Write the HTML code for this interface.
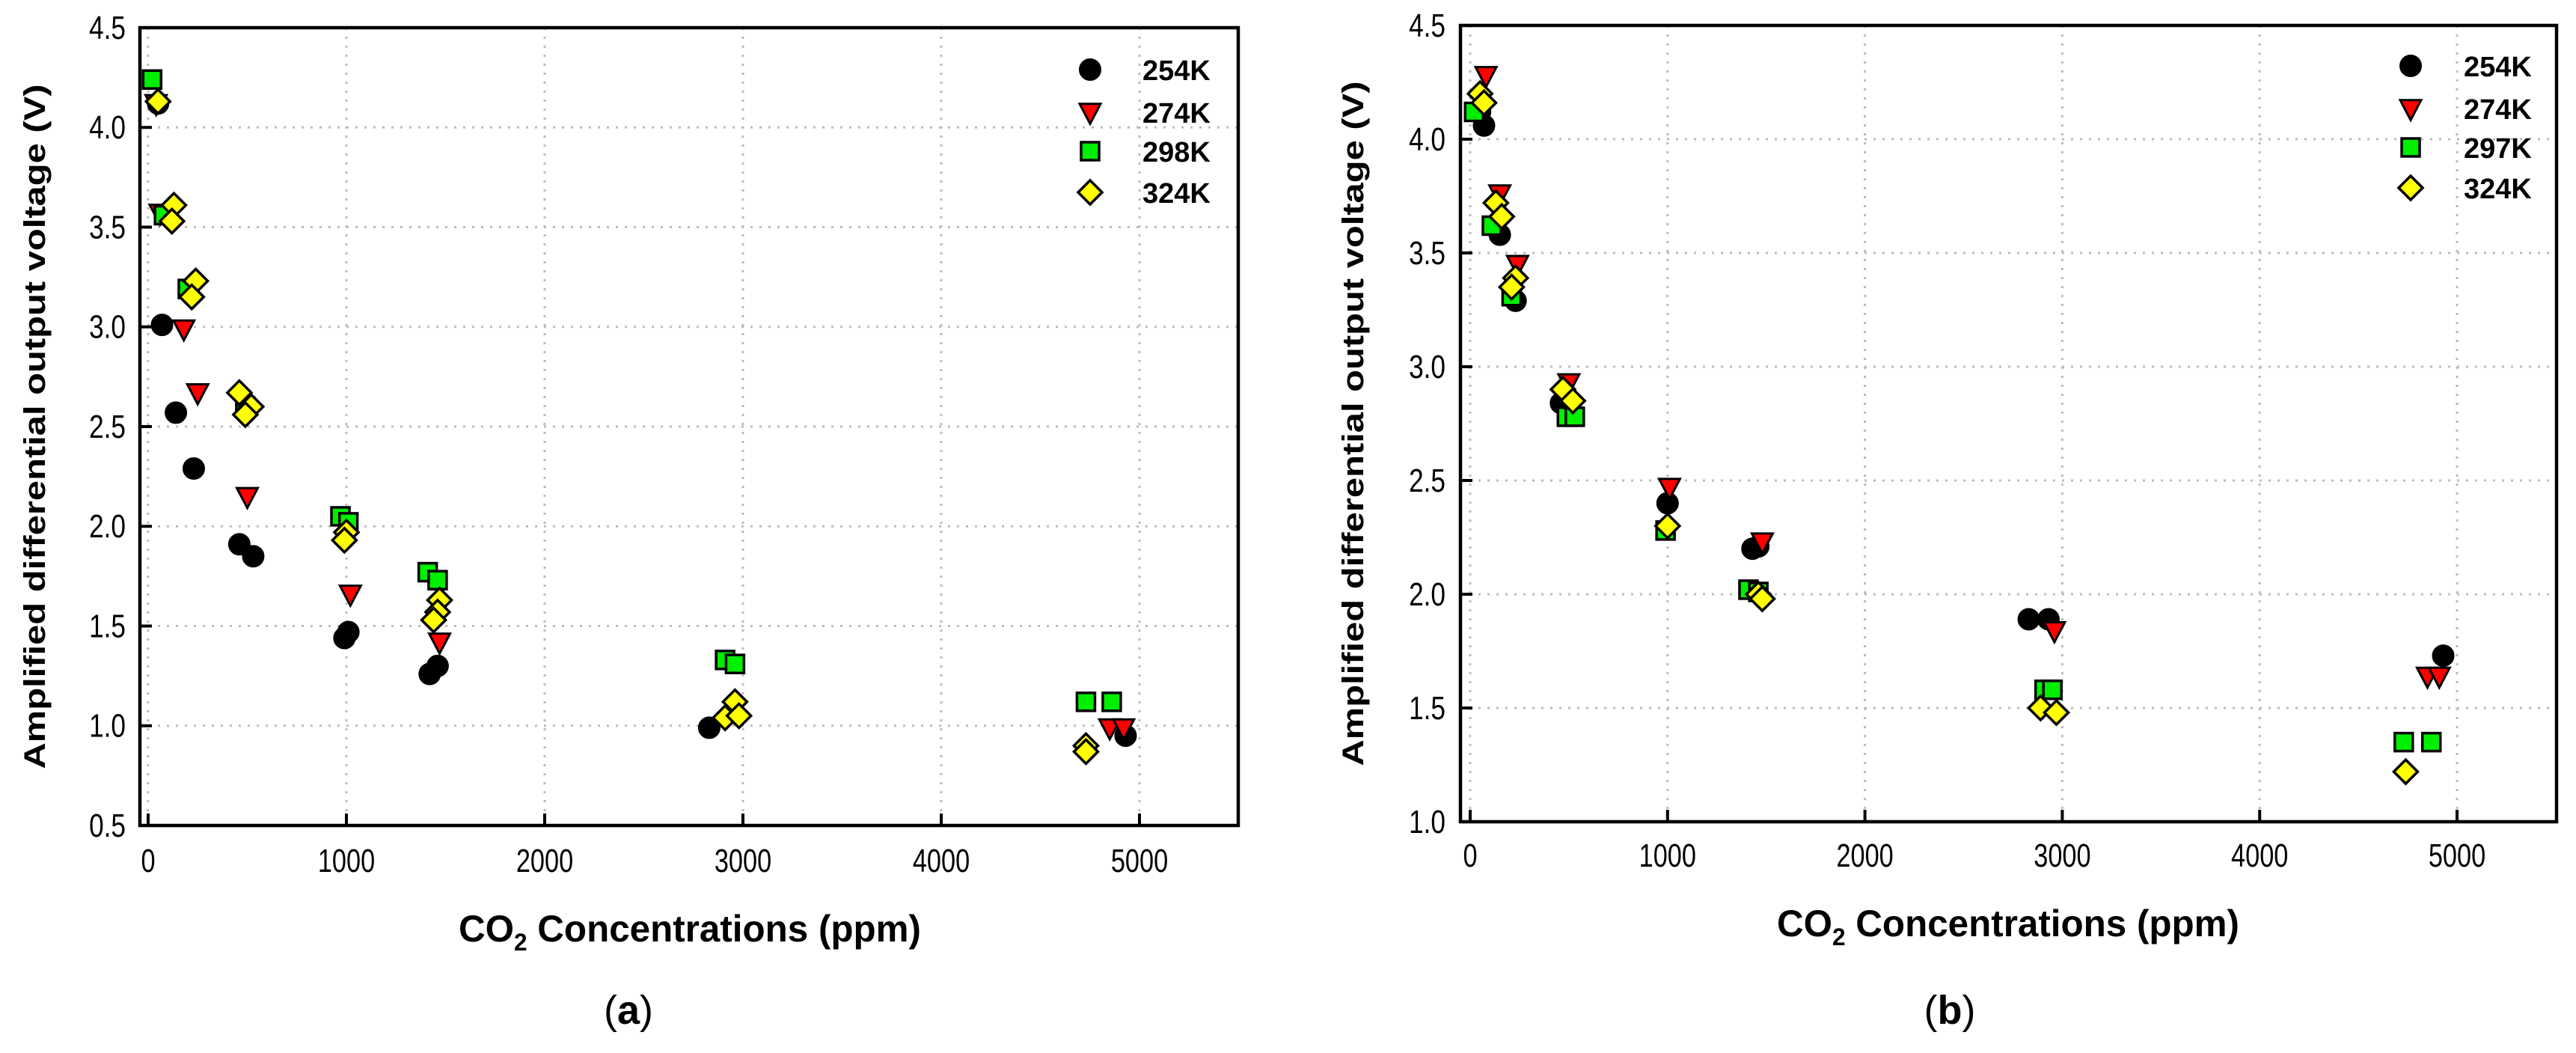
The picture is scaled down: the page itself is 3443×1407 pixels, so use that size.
<!DOCTYPE html>
<html><head><meta charset="utf-8"><style>
html,body{margin:0;padding:0;background:#fff;width:3443px;height:1407px;overflow:hidden}
svg text{font-family:"Liberation Sans",sans-serif}
</style></head><body>
<svg id="root" width="3443" height="1407" viewBox="0 0 3443 1407" xmlns="http://www.w3.org/2000/svg"></svg>
<script>
// ---- Panel (a) data ----
const aX254=[50,70,140,230,460,530,990,1010,1420,1460,2830,4930];
const aY254=[4.12,3.01,2.57,2.29,1.91,1.85,1.44,1.47,1.26,1.30,0.99,0.95];
const aX274=[40,60,180,250,500,1020,1470,4850,4920];
const aY274=[4.12,3.57,2.99,2.67,2.15,1.66,1.42,0.99,0.99];
const aX298=[20,80,200,490,970,1010,1410,1460,2910,2960,4730,4860];
const aY298=[4.24,3.56,3.19,2.60,2.05,2.02,1.77,1.73,1.33,1.31,1.12,1.12];
const aX324=[50,130,120,240,220,460,520,490,1000,990,1470,1460,1440,2910,2960,2980,4730,4730];
const aY324=[4.13,3.61,3.53,3.23,3.15,2.67,2.60,2.56,1.97,1.93,1.63,1.57,1.53,1.04,1.12,1.05,0.90,0.87];
// ---- Panel (b) data ----
const bX254=[50,70,150,230,460,1000,1430,1460,2830,2930,4930];
const bY254=[4.12,4.06,3.58,3.29,2.84,2.40,2.20,2.21,1.89,1.89,1.73];
const bX274=[80,150,240,500,1010,1480,2960,4850,4910];
const bY274=[4.28,3.76,3.45,2.93,2.47,2.23,1.84,1.64,1.64];
const bX297=[20,110,210,490,530,990,1410,1460,2910,2950,4730,4870];
const bY297=[4.12,3.62,3.31,2.78,2.78,2.28,2.02,2.01,1.58,1.58,1.35,1.35];
const bX324=[50,70,130,160,230,210,470,520,1000,1460,1480,2890,2970,4740];
const bY324=[4.20,4.16,3.72,3.66,3.39,3.35,2.90,2.85,2.30,2.00,1.98,1.50,1.48,1.22];
const xTicks=[0,1000,2000,3000,4000,5000];
const aYTicks=[0.5,1.0,1.5,2.0,2.5,3.0,3.5,4.0,4.5];
const bYTicks=[1.0,1.5,2.0,2.5,3.0,3.5,4.0,4.5];
const aLegend=["254K","274K","298K","324K"];
const bLegend=["254K","274K","297K","324K"];

const NS="http://www.w3.org/2000/svg";
const root=document.getElementById('root');
function mk(tag,attrs,parent){const e=document.createElementNS(NS,tag);for(const k in attrs)e.setAttribute(k,attrs[k]);(parent||root).appendChild(e);return e;}

function marker(g,type,cx,cy){
  let e;const r=14;
  if(type==='circle'){e=mk('circle',{cx:cx,cy:cy,r:r,fill:'#000',stroke:'#000','stroke-width':2},g);}
  else if(type==='tri'){e=mk('polygon',{points:`${cx-r},${cy-r*0.8} ${cx+r},${cy-r*0.8} ${cx},${cy+r*1.1}`,fill:'#ff0000',stroke:'#000','stroke-width':3},g);}
  else if(type==='sq'){e=mk('rect',{x:cx-12,y:cy-12,width:24,height:24,fill:'#00ee00',stroke:'#000','stroke-width':3.5},g);}
  else {e=mk('polygon',{points:`${cx},${cy-r-2} ${cx+r+2},${cy} ${cx},${cy+r+2} ${cx-r-2},${cy}`,fill:'#ffff00',stroke:'#000','stroke-width':3.5},g);}
  return e;
}

function panel(cfg){
  const g=mk('g',{});
  
  
  const X=p=>cfg.x0+p*cfg.xs;
  const Y=v=>cfg.yb-(v-cfg.ymin)*cfg.ys;
  const top=Y(4.5), right=cfg.right, left=cfg.left, bottom=cfg.yb;
  // grid
  xTicks.forEach(t=>{const l=mk('line',{x1:X(t),x2:X(t),y1:top,y2:bottom,stroke:'#bbb','stroke-width':3,'stroke-dasharray':'3 9'},g);
    });
  cfg.yt.forEach(t=>{const l=mk('line',{x1:left,x2:right,y1:Y(t),y2:Y(t),stroke:'#bbb','stroke-width':3,'stroke-dasharray':'3 9'},g);
    });
  // ticks
  xTicks.forEach(t=>{mk('line',{x1:X(t),x2:X(t),y1:bottom,y2:bottom-16,stroke:'#000','stroke-width':4},g);
    const tx=mk('text',{x:X(t),y:cfg.xlabY,'text-anchor':'middle','font-size':44,transform:`translate(${X(t)},0) scale(0.78,1) translate(${-X(t)},0)`},g);
    tx.textContent=t;});
  cfg.yt.forEach(t=>{mk('line',{x1:left,x2:left+16,y1:Y(t),y2:Y(t),stroke:'#000','stroke-width':4},g);
    const tx=mk('text',{x:cfg.ylabX,y:Y(t)+15,'text-anchor':'end','font-size':44,transform:`translate(${cfg.ylabX},0) scale(0.8,1) translate(${-cfg.ylabX},0)`},g);
    tx.textContent=t.toFixed(1);});
  // frame
  const fr=mk('rect',{x:left,y:top,width:right-left,height:bottom-top,fill:'none',stroke:'#000','stroke-width':4.5},g);
  
  // series
  cfg.series.forEach(s=>{
    const sg=mk('g',{},g);
    
    
    s.xs.forEach((p,i)=>{const m=marker(sg,s.type,X(p),Y(s.ys[i]));
      });
  });
  // legend
  const types=['circle','tri','sq','dia'];
  cfg.legend.forEach((lab,i)=>{
    const lg=mk('g',{},g);
    
    
    marker(lg,types[i],cfg.legX,cfg.legY[i]);
    const t=mk('text',{x:cfg.legTX,y:cfg.legY[i]+14,'font-size':38,'font-weight':'bold'},lg);
    t.textContent=lab;
  });
  // axis titles
  const yt=mk('text',{x:0,y:0,'text-anchor':'middle','font-size':40,'font-weight':'bold',textLength:915,lengthAdjust:'spacingAndGlyphs',transform:`translate(${cfg.ytX},${(top+bottom)/2}) rotate(-90)`},g);
  yt.textContent='Amplified differential output voltage (V)';
  
  const xt=mk('text',{x:cfg.xtX,y:cfg.xtY,'text-anchor':'middle','font-size':50,'font-weight':'bold',textLength:618,lengthAdjust:'spacingAndGlyphs'},g);
  
  xt.appendChild(document.createTextNode('CO'));
  const sub=mk('tspan',{'font-size':32,dy:12},xt);sub.textContent='2';
  const rest=mk('tspan',{dy:-12},xt);rest.textContent=' Concentrations (ppm)';
  const cap=mk('text',{x:cfg.capX,y:1368,'text-anchor':'middle','font-size':54,'font-family':'Liberation Serif'},g);
  
  cap.appendChild(document.createTextNode('('));
  const b=mk('tspan',{'font-weight':'bold'},cap);b.textContent=cfg.cap;
  cap.appendChild(document.createTextNode(')'));
}

panel({name:'chart-a',x0:198,xs:0.265,yb:1103,ymin:0.5,ys:266.5,left:187,right:1655,yt:aYTicks,
  xlabY:1165,ylabX:168,legend:aLegend,legX:1457,legY:[93,150,202,257],legTX:1527,
  ytX:60,xtX:922,xtY:1258,capX:840,cap:'a',
  series:[{name:'series-254k',type:'circle',xs:aX254,ys:aY254},{name:'series-274k',type:'tri',xs:aX274,ys:aY274},
          {name:'series-298k',type:'sq',xs:aX298,ys:aY298},{name:'series-324k',type:'dia',xs:aX324,ys:aY324}]});
panel({name:'chart-b',x0:1965,xs:0.2638,yb:1098,ymin:1.0,ys:304,left:1952,right:3417,yt:bYTicks,
  xlabY:1158,ylabX:1932,legend:bLegend,legX:3222,legY:[88,145,197,251],legTX:3293,
  ytX:1822,xtX:2684,xtY:1251,capX:2606,cap:'b',
  series:[{name:'series-254k',type:'circle',xs:bX254,ys:bY254},{name:'series-274k',type:'tri',xs:bX274,ys:bY274},
          {name:'series-297k',type:'sq',xs:bX297,ys:bY297},{name:'series-324k',type:'dia',xs:bX324,ys:bY324}]});
</script>
</body></html>
